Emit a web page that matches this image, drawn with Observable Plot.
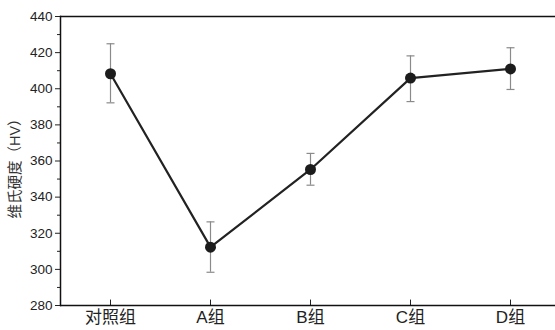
<!DOCTYPE html>
<html>
<head>
<meta charset="utf-8">
<script src="https://cdn.jsdelivr.net/npm/d3@7"></script>
<script src="https://cdn.jsdelivr.net/npm/@observablehq/plot@0.6"></script>
<style>
body { margin: 0; background: #fff; }
</style>
</head>
<body>
<div id="chart"></div>
<script>
const groups = ["对照组", "A组", "B组", "C组", "D组"];
const means = [408.3, 312.3, 355.3, 405.9, 411.0];
const upper = [424.9, 326.3, 364.2, 418.2, 422.7];
const lower = [392.2, 298.4, 346.6, 392.9, 399.6];
const majorTicks = [280, 300, 320, 340, 360, 380, 400, 420, 440];
const minorTicks = [290, 310, 330, 350, 370, 390, 410, 430];
const yTitle = "维氏硬度（HV）";

const data = groups.map((g, i) => ({g, m: means[i], hi: upper[i], lo: lower[i]}));

const capSymbol = {
  draw(context, size) {
    const r = Math.sqrt(size / Math.PI);
    context.moveTo(-r, 0);
    context.lineTo(r, 0);
  }
};

const font = "'Liberation Sans', Arial, 'Noto Sans CJK SC', sans-serif";

const chart = Plot.plot({
  width: 555,
  height: 330,
  marginTop: 16,
  marginBottom: 25,
  marginLeft: 60,
  marginRight: 0,
  style: {fontFamily: font, fontSize: "13px", color: "#222", background: "#fff"},
  x: {type: "point", domain: groups, range: [110, 510], padding: 0},
  y: {domain: [280, 440]},
  marks: [
    Plot.axisY({ticks: minorTicks, tickSize: 3, tickFormat: () => "", label: null, stroke: "#222"}),
    Plot.axisY({ticks: majorTicks, tickSize: 5, tickPadding: 3, fontSize: 13.5, label: null, stroke: "#222"}),
    Plot.axisX({tickSize: 0, tickPadding: 5, fontSize: 17, label: null}),
    Plot.ruleX(groups, {x: d => d, y1: 280, y2: 283, stroke: "#222", strokeWidth: 1}),
    Plot.text([yTitle], {frameAnchor: "left", textAnchor: "middle", rotate: -90, dx: -45, dy: 4, fontSize: 14.5, fill: "#333"}),
    Plot.frame({anchor: "left", stroke: "#111", strokeWidth: 1.5}),
    Plot.ruleY([280], {stroke: "#111", strokeWidth: 1.5}),
    Plot.ruleY([440], {stroke: "#111", strokeWidth: 1.5}),
    Plot.ruleX(data, {x: "g", y1: "lo", y2: "hi", stroke: "#8a8a8a", strokeWidth: 1.2}),
    Plot.dot(data, {x: "g", y: "hi", r: 4, symbol: capSymbol, stroke: "#8a8a8a", strokeWidth: 1.2}),
    Plot.dot(data, {x: "g", y: "lo", r: 4, symbol: capSymbol, stroke: "#8a8a8a", strokeWidth: 1.2}),
    Plot.line(data, {x: "g", y: "m", stroke: "#222", strokeWidth: 2.2}),
    Plot.dot(data, {x: "g", y: "m", r: 5.5, fill: "#1c1c1c", stroke: "none"})
  ]
});
document.getElementById("chart").appendChild(chart);
</script>
</body>
</html>
